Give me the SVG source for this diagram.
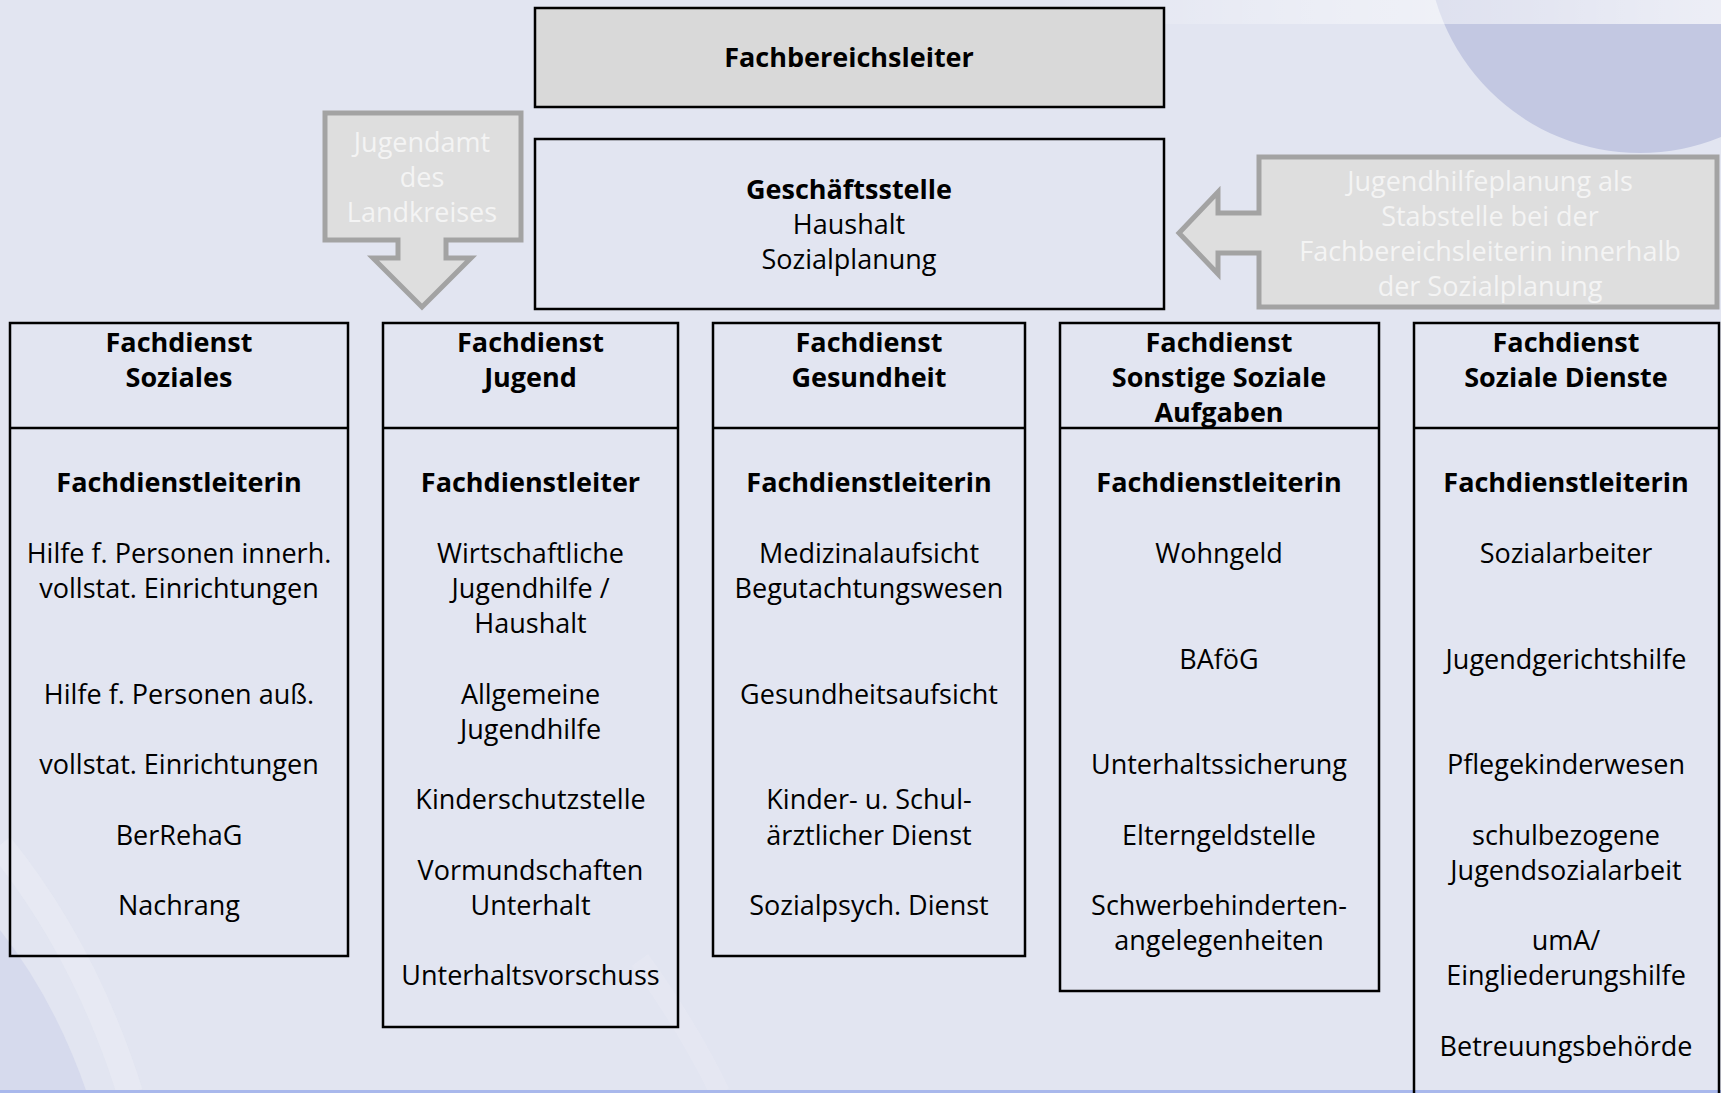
<svg xmlns="http://www.w3.org/2000/svg" width="1721" height="1093" viewBox="0 0 1721 1093">
<defs>
<linearGradient id="topband" x1="0" y1="0" x2="1" y2="0">
<stop offset="0" stop-color="#ffffff" stop-opacity="0"/>
<stop offset="0.4" stop-color="#ffffff" stop-opacity="0.35"/>
<stop offset="1" stop-color="#ffffff" stop-opacity="0.7"/>
</linearGradient>
<style>
.t{font-family:"Open Sans","Noto Sans","DejaVu Sans",sans-serif;font-size:27px;fill:#000;text-anchor:middle}
.b{font-family:"Open Sans","Noto Sans","DejaVu Sans",sans-serif;font-size:27px;font-weight:bold;fill:#000;text-anchor:middle}
.c{font-family:"Open Sans","Noto Sans","DejaVu Sans",sans-serif;font-size:27px;fill:#f4f4f4;text-anchor:middle}
.box{fill:none;stroke:#000;stroke-width:2.5}
.div{stroke:#000;stroke-width:2.5}
.callout{fill:#dedede;stroke:#a3a3a3;stroke-width:5;stroke-linejoin:miter}
</style>
</defs>
<g id="background">
<rect x="0" y="0" width="1721" height="1093" fill="#e2e5f1"/>
<path d="M0,930 Q55,1000 87,1093 L0,1093 Z" fill="#d6daed"/>
<path d="M0,845 Q85,950 130,1093" fill="none" stroke="#eceef6" stroke-width="26" stroke-opacity="0.5"/>
<path d="M640,960 Q690,1030 720,1093" fill="none" stroke="#eaecf5" stroke-width="20" stroke-opacity="0.4"/>
<circle cx="1640" cy="-60" r="213" fill="#c3c8e2"/>
<rect x="1050" y="0" width="671" height="24" fill="url(#topband)"/>
<rect x="0" y="1090" width="1721" height="3" fill="#a9b8ec"/>
</g>
<g id="connectors"></g>
<g id="fachbereichsleiter">
<rect x="535" y="8" width="629" height="99" fill="#d9d9d9" stroke="#000" stroke-width="2.5"/>
<text class="b" x="849" y="67">Fachbereichsleiter</text>
</g>
<g id="geschaeftsstelle">
<rect x="535" y="139" width="629" height="170" class="box"/>
<text class="b" x="849" y="199">Geschäftsstelle</text>
<text class="t" x="849" y="234">Haushalt</text>
<text class="t" x="849" y="269">Sozialplanung</text>
</g>
<g id="jugendamt">
<path class="callout" d="M325,113 H521 V240 H446 V258 H471 L422,307 L373,258 H398 V240 H325 Z"/>
<text class="c" x="422" y="152">Jugendamt</text>
<text class="c" x="422" y="187">des</text>
<text class="c" x="422" y="222">Landkreises</text>
</g>
<g id="jugendhilfeplanung">
<path class="callout" d="M1259,157 H1717 V307 H1259 V253 H1218 V274 L1179,233 L1218,192 V213 H1259 Z"/>
<text class="c" x="1490" y="191">Jugendhilfeplanung als</text>
<text class="c" x="1490" y="226">Stabstelle bei der</text>
<text class="c" x="1490" y="261">Fachbereichsleiterin innerhalb</text>
<text class="c" x="1490" y="296">der Sozialplanung</text>
</g>
<g id="fd-soziales">
<rect x="10" y="323" width="338" height="633" class="box"/>
<line x1="10" y1="428" x2="348" y2="428" class="div"/>
<text class="b" x="179" y="352">Fachdienst</text>
<text class="b" x="179" y="387">Soziales</text>
<text class="b" x="179" y="492">Fachdienstleiterin</text>
<text class="t" x="179" y="563">Hilfe f. Personen innerh.</text>
<text class="t" x="179" y="598">vollstat. Einrichtungen</text>
<text class="t" x="179" y="704">Hilfe f. Personen auß.</text>
<text class="t" x="179" y="774">vollstat. Einrichtungen</text>
<text class="t" x="179" y="845">BerRehaG</text>
<text class="t" x="179" y="915">Nachrang</text>
</g>
<g id="fd-jugend">
<rect x="383" y="323" width="295" height="704" class="box"/>
<line x1="383" y1="428" x2="678" y2="428" class="div"/>
<text class="b" x="530.5" y="352">Fachdienst</text>
<text class="b" x="530.5" y="387">Jugend</text>
<text class="b" x="530.5" y="492">Fachdienstleiter</text>
<text class="t" x="530.5" y="563">Wirtschaftliche</text>
<text class="t" x="530.5" y="598">Jugendhilfe /</text>
<text class="t" x="530.5" y="633">Haushalt</text>
<text class="t" x="530.5" y="704">Allgemeine</text>
<text class="t" x="530.5" y="739">Jugendhilfe</text>
<text class="t" x="530.5" y="809">Kinderschutzstelle</text>
<text class="t" x="530.5" y="880">Vormundschaften</text>
<text class="t" x="530.5" y="915">Unterhalt</text>
<text class="t" x="530.5" y="985">Unterhaltsvorschuss</text>
</g>
<g id="fd-gesundheit">
<rect x="713" y="323" width="312" height="633" class="box"/>
<line x1="713" y1="428" x2="1025" y2="428" class="div"/>
<text class="b" x="869" y="352">Fachdienst</text>
<text class="b" x="869" y="387">Gesundheit</text>
<text class="b" x="869" y="492">Fachdienstleiterin</text>
<text class="t" x="869" y="563">Medizinalaufsicht</text>
<text class="t" x="869" y="598">Begutachtungswesen</text>
<text class="t" x="869" y="704">Gesundheitsaufsicht</text>
<text class="t" x="869" y="809">Kinder- u. Schul-</text>
<text class="t" x="869" y="845">ärztlicher Dienst</text>
<text class="t" x="869" y="915">Sozialpsych. Dienst</text>
</g>
<g id="fd-sonstige">
<rect x="1060" y="323" width="319" height="668" class="box"/>
<line x1="1060" y1="428" x2="1379" y2="428" class="div"/>
<text class="b" x="1219" y="352">Fachdienst</text>
<text class="b" x="1219" y="387">Sonstige Soziale</text>
<text class="b" x="1219" y="422">Aufgaben</text>
<text class="b" x="1219" y="492">Fachdienstleiterin</text>
<text class="t" x="1219" y="563">Wohngeld</text>
<text class="t" x="1219" y="669">BAföG</text>
<text class="t" x="1219" y="774">Unterhaltssicherung</text>
<text class="t" x="1219" y="845">Elterngeldstelle</text>
<text class="t" x="1219" y="915">Schwerbehinderten-</text>
<text class="t" x="1219" y="950">angelegenheiten</text>
</g>
<g id="fd-soziale-dienste">
<rect x="1414" y="323" width="305" height="800" class="box"/>
<line x1="1414" y1="428" x2="1719" y2="428" class="div"/>
<text class="b" x="1566" y="352">Fachdienst</text>
<text class="b" x="1566" y="387">Soziale Dienste</text>
<text class="b" x="1566" y="492">Fachdienstleiterin</text>
<text class="t" x="1566" y="563">Sozialarbeiter</text>
<text class="t" x="1566" y="669">Jugendgerichtshilfe</text>
<text class="t" x="1566" y="774">Pflegekinderwesen</text>
<text class="t" x="1566" y="845">schulbezogene</text>
<text class="t" x="1566" y="880">Jugendsozialarbeit</text>
<text class="t" x="1566" y="950">umA/</text>
<text class="t" x="1566" y="985">Eingliederungshilfe</text>
<text class="t" x="1566" y="1056">Betreuungsbehörde</text>
</g>
</svg>
